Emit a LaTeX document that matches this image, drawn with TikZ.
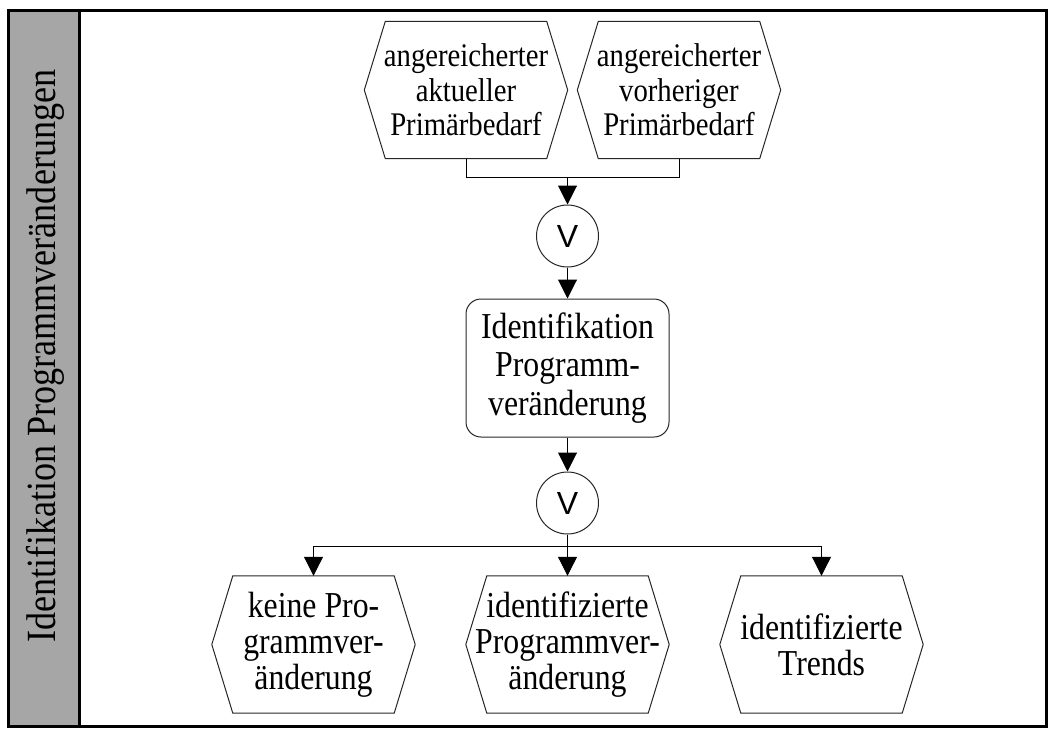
\documentclass[tikz,border=0pt]{standalone}
\usepackage{fontspec}
\setmainfont{Liberation Serif}[FakeStretch=0.87]
\newfontfamily\joinfont{Liberation Sans}
\usetikzlibrary{arrows.meta,calc}
\definecolor{lanegray}{RGB}{166,166,166}
\begin{document}
\begin{tikzpicture}[x=1pt,y=-1pt,
  hexnode/.style={minimum width=203pt, minimum height=137pt, inner sep=0pt, align=center},
  topfont/.style={font=\fontsize{33}{34.5}\selectfont},
  botfont/.style={font=\fontsize{36.5}{36}\selectfont},
  hexline/.style={draw=black!85, line width=1pt},
  joinnode/.style={circle, draw=black!85, line width=1pt, minimum size=62pt, inner sep=0pt,
    font=\joinfont\fontsize{32}{32}\selectfont},
  funcnode/.style={rectangle, rounded corners=15pt, draw=black!85, line width=1pt,
    minimum width=203pt, minimum height=138pt, inner sep=0pt, align=center,
    font=\fontsize{36.5}{38.5}\selectfont},
  plain/.style={line width=1pt},
  flow/.style={line width=1pt, -{Triangle[length=19pt,width=19pt]}}
]
\useasboundingbox (0,0) rectangle (1048,728);

% swimlane frame
\fill[lanegray] (8,10) rectangle (79,726.5);
\draw[line width=3pt] (8,10) rectangle (1046.5,726.5);
\draw[line width=3pt] (79,10) -- (79,726.5);
\node[rotate=90, font=\fontsize{41.5}{41.5}\selectfont] (lane) at (45,356) {Identifikation Programmveränderungen};

% input events
\node[hexnode, topfont] (inL) at (466,90) {angereicherter\\aktueller\\Primärbedarf};
\node[hexnode, topfont] (inR) at (679,90) {angereicherter\\vorheriger\\Primärbedarf};

% connectors and function
\node[joinnode] (or1) at (567.5,236) {V};
\node[funcnode] (fn) at (567.5,368) {Identifikation\\Programm-\\veränderung};
\node[joinnode] (or2) at (567.5,503) {V};

% output events
\node[hexnode, botfont] (outA) at (313.5,644.5) {keine Pro-\\grammver-\\änderung};
\node[hexnode, botfont] (outB) at (567.5,644.5) {identifizierte\\Programmver-\\änderung};
\node[hexnode, botfont] (outC) at (821.5,644.5) {identifizierte\\Trends};

% hexagonal event outlines
\foreach \n in {inL,inR,outA,outB,outC}
  \draw[hexline] (\n.west) -- ([xshift=21pt]\n.north west) -- ([xshift=-21pt]\n.north east)
    -- (\n.east) -- ([xshift=-21pt]\n.south east) -- ([xshift=21pt]\n.south west) -- cycle;

% flow
\coordinate (m1) at (567.5,177);
\coordinate (m2) at (567.5,546);
\draw[plain] (inL.south) -- (inL.south |- m1) -- (inR.south |- m1) -- (inR.south);
\draw[flow] (m1) -- (or1);
\draw[flow] (or1) -- (fn);
\draw[flow] (fn) -- (or2);
\draw[plain] (or2) -- (m2);
\draw[flow] (m2) -| (outA.north);
\draw[flow] (m2) -- (outB.north);
\draw[flow] (m2) -| (outC.north);
\end{tikzpicture}
\end{document}
